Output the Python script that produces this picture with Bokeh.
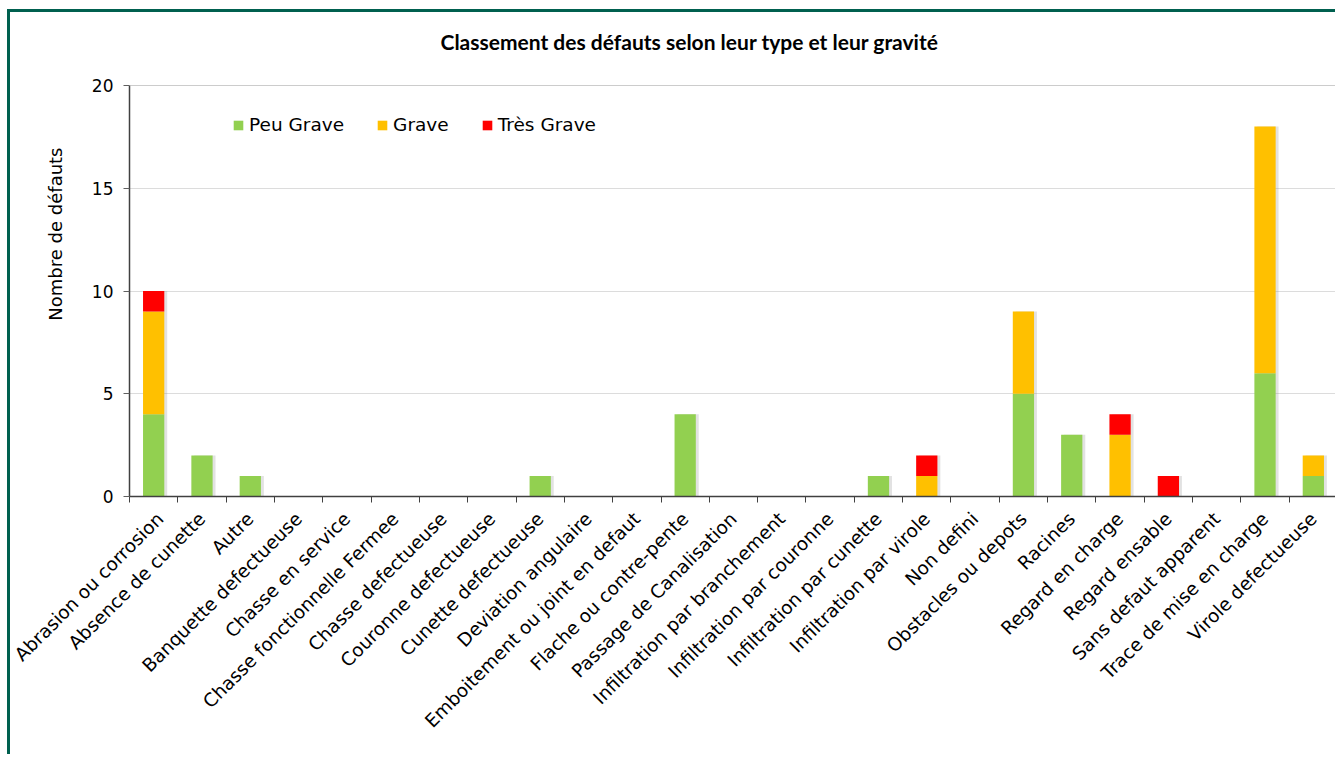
import math
from bokeh.plotting import figure
from bokeh.models import Range1d, FixedTicker, Span, Legend, Title
from bokeh.transform import dodge
from bokeh.embed import file_html
from bokeh.resources import INLINE

categories = [
    "Abrasion ou corrosion", "Absence de cunette", "Autre", "Banquette defectueuse",
    "Chasse en service", "Chasse fonctionnelle Fermee", "Chasse defectueuse",
    "Couronne defectueuse", "Cunette defectueuse", "Deviation angulaire",
    "Emboitement ou joint en defaut", "Flache ou contre-pente", "Passage de Canalisation",
    "Infiltration par branchement", "Infiltration par couronne", "Infiltration par cunette",
    "Infiltration par virole", "Non defini", "Obstacles ou depots", "Racines",
    "Regard en charge", "Regard ensable", "Sans defaut apparent",
    "Trace de mise en charge", "Virole defectueuse",
]
peu_grave = [4, 2, 1, 0, 0, 0, 0, 0, 1, 0, 0, 4, 0, 0, 0, 1, 0, 0, 5, 3, 0, 0, 0, 6, 1]
grave = [5, 0, 0, 0, 0, 0, 0, 0, 0, 0, 0, 0, 0, 0, 0, 0, 1, 0, 4, 0, 3, 0, 0, 12, 1]
tres_grave = [1, 0, 0, 0, 0, 0, 0, 0, 0, 0, 0, 0, 0, 0, 0, 0, 1, 0, 0, 0, 1, 1, 0, 0, 0]
series_names = ["Peu Grave", "Grave", "Très Grave"]
series_colors = ["#92d050", "#ffc000", "#ff0000"]
y_ticks = [0, 5, 10, 15, 20]

title_text = "Classement des défauts selon leur type et leur gravité"
y_title = "Nombre de défauts"

n = len(categories)
xs = [i + 0.5 for i in range(n)]
totals = [a + b + c for a, b, c in zip(peu_grave, grave, tres_grave)]

data = dict(x=xs, total=totals)
data[series_names[0]] = peu_grave
data[series_names[1]] = grave
data[series_names[2]] = tres_grave

p = figure(width=1328, height=745, output_backend="svg", toolbar_location=None,
           x_range=Range1d(0, n), y_range=Range1d(0, 20),
           min_border_left=119, min_border_right=1, min_border_top=73,
           min_border_bottom=261)
p.styles = {"margin-left": "7px", "margin-top": "9px",
            "border-left": "3px solid #00604f", "border-top": "3px solid #00604f"}
p.background_fill_color = "white"
p.border_fill_color = "white"
p.outline_line_color = None

# spacer between frame and title (closest to frame), then the title
p.add_layout(Title(text=" ", text_font_size="1px", standoff=12), "above")
p.add_layout(Title(text=title_text, align="left", offset=311, standoff=30,
                   vertical_align="top",
                   text_font="Lato", text_font_style="bold", text_font_size="21px",
                   text_color="#000000"), "above")
p.add_layout(Title(text=y_title, align="right", offset=62, standoff=46,
                   text_font="DejaVu Sans", text_font_style="normal", text_font_size="18px",
                   text_color="#000000"), "left")

# shadows
p.vbar(x=dodge("x", 0.06), top="total", width=0.44, bottom=0, source=data,
       fill_color="#8c8c8c", fill_alpha=0.25, line_color=None)

rs = p.vbar_stack(series_names, x="x", width=0.44, source=data,
                  color=series_colors, line_color=None)

legend = Legend(items=[(nm, [r]) for nm, r in zip(series_names, rs)],
                orientation="horizontal", location=(103, 361))
legend.background_fill_alpha = 0
legend.border_line_alpha = 0
legend.label_text_font = "DejaVu Sans"
legend.label_text_font_size = "18.5px"
legend.label_text_color = "#000000"
legend.glyph_width = 12
legend.glyph_height = 12
legend.label_standoff = 5
legend.spacing = 32
legend.padding = 0
legend.margin = 0
p.add_layout(legend)

# axes
xa = p.xaxis[0]
xa.ticker = FixedTicker(ticks=xs, minor_ticks=list(range(n + 1)))
xa.major_label_overrides = {x: c for x, c in zip(xs, categories)}
xa.major_label_orientation = math.pi / 4
xa.major_label_text_font = "DejaVu Sans"
xa.major_label_text_font_size = "18.5px"
xa.major_label_text_color = "#000000"
xa.major_label_standoff = 13
xa.major_tick_line_color = None
xa.major_tick_out = 0
xa.major_tick_in = 0
xa.minor_tick_line_color = "#404040"
xa.minor_tick_out = 6
xa.minor_tick_in = 0
xa.axis_line_color = "#404040"
xa.axis_line_width = 1.5

ya = p.yaxis[0]
ya.ticker = FixedTicker(ticks=y_ticks)
ya.major_label_text_font = "DejaVu Sans"
ya.major_label_text_font_size = "17px"
ya.major_label_text_color = "#000000"
ya.major_tick_out = 6
ya.major_tick_in = 0
ya.major_tick_line_color = "#606060"
ya.minor_tick_line_color = None
ya.axis_line_color = "#404040"
ya.axis_line_width = 1.5
ya.major_label_standoff = 10

p.xgrid.visible = False
p.ygrid.ticker = FixedTicker(ticks=y_ticks)
p.ygrid.grid_line_color = "#dcdcdc"
p.add_layout(Span(location=20, dimension="width", line_color="#9a9a9a", line_width=1))

open("out.html", "w").write(file_html(p, INLINE))
